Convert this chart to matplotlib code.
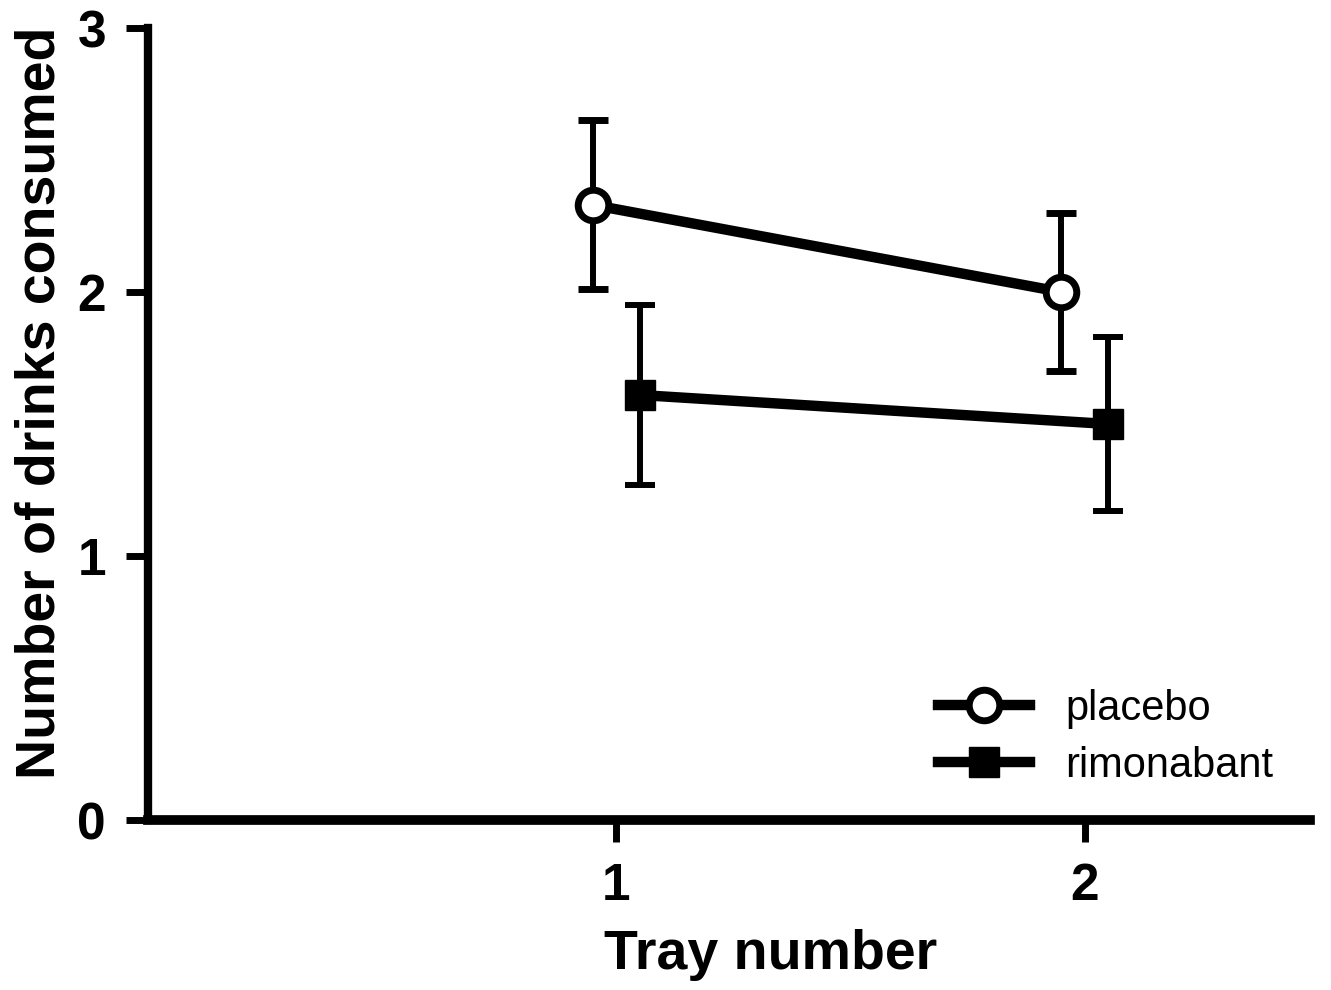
import numpy as np
import matplotlib
matplotlib.use("Agg")
import matplotlib.pyplot as plt
from matplotlib.lines import Line2D

# data
trays = np.array([1, 2])
placebo_mean = [2.33, 2.00]
placebo_sem = [0.32, 0.30]
rimo_mean = [1.61, 1.50]
rimo_sem = [0.34, 0.33]

plt.rcParams["font.family"] = ["Liberation Sans", "DejaVu Sans"]

fig = plt.figure(figsize=(13.31, 9.9), dpi=100)
ax = fig.add_axes([0.111, 0.1717, 0.873, 0.80])

off = 0.05
ax.errorbar(trays - off, placebo_mean, yerr=placebo_sem, color="black", lw=7.5,
            elinewidth=4.3, capsize=11, capthick=4.3, marker="o", ms=22,
            mfc="white", mec="black", mew=5, zorder=3)
ax.errorbar(trays + off, rimo_mean, yerr=rimo_sem, color="black", lw=7.5,
            elinewidth=4.3, capsize=11, capthick=4.3, marker="s", ms=21,
            mfc="black", mec="black", zorder=3)

ax.set_xlim(0, 2.48)
ax.set_ylim(0, 3)
ax.set_xticks([1, 2])
ax.set_yticks([0, 1, 2, 3])
for s in ["top", "right"]:
    ax.spines[s].set_visible(False)
ax.spines["left"].set_linewidth(6)
ax.spines["bottom"].set_linewidth(7)
ax.tick_params(width=5, length=16, labelsize=37, pad=14)
for t in ax.get_xticklabels() + ax.get_yticklabels():
    t.set_fontweight("bold")

ax.set_xlabel("Tray number", fontsize=40, fontweight="bold")
ax.set_ylabel("Number of drinks consumed", fontsize=40, fontweight="bold")
ax.xaxis.set_label_coords(0.536, -0.138)
ax.yaxis.set_label_coords(-0.070, 0.527)

handles = [
    Line2D([], [], color="black", lw=7.5, marker="o", ms=22, mfc="white", mec="black", mew=5),
    Line2D([], [], color="black", lw=7.5, marker="s", ms=21, mfc="black", mec="black"),
]
ax.legend(handles, ["placebo", "rimonabant"], loc="upper left",
          bbox_to_anchor=(0.68, 0.166), frameon=False, fontsize=30,
          handlelength=2.2, handletextpad=0.85, borderpad=0, borderaxespad=0,
          labelspacing=0.42)

fig.savefig("out.png", dpi=100)
